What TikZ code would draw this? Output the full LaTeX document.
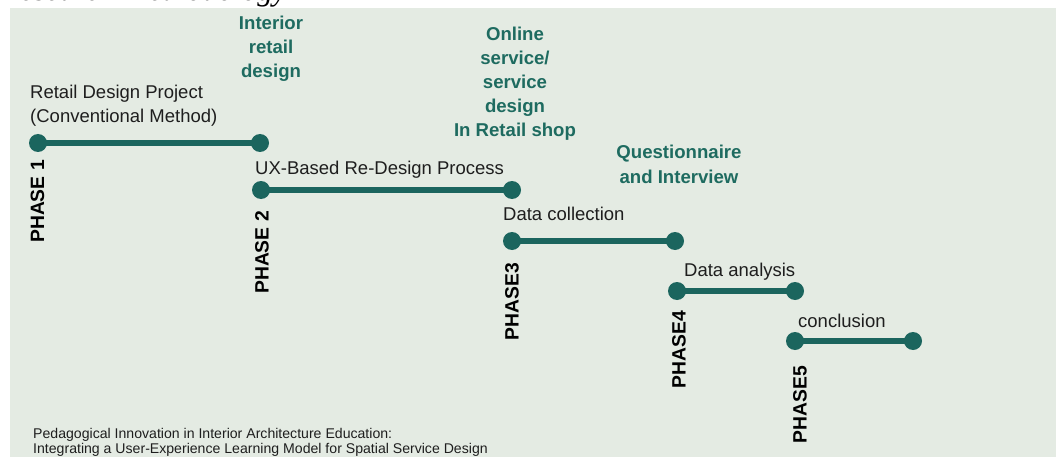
\documentclass[tikz,border=0pt]{standalone}
\usepackage{fontspec}
\setmainfont{Liberation Sans}
\newfontfamily\titlefont{Liberation Serif}
\definecolor{panelbg}{HTML}{E4EBE3}
\definecolor{teal}{HTML}{1B655E}
\definecolor{tealtext}{HTML}{1E6B60}
\definecolor{ink}{HTML}{1E1E1E}
\begin{document}
\begin{tikzpicture}[x=1pt,y=-1pt,
  dot/.style={circle,fill=teal,minimum size=18pt,inner sep=0pt},
  phaseline/.style={draw=teal,line width=6.5pt},
  steplabel/.style={anchor=base west,inner sep=0pt,text=ink,font=\fontsize{18.5}{24}\selectfont,align=left},
  phaselabel/.style={anchor=east,rotate=90,inner sep=0pt,text=black,font=\fontsize{19.3}{22}\selectfont\bfseries},
  notelabel/.style={anchor=base,inner sep=0pt,text=tealtext,align=center,font=\fontsize{18.6}{24.2}\selectfont\bfseries},
  footnote/.style={anchor=base west,inner sep=0pt,text=ink,align=left,font=\fontsize{14.1}{14.5}\selectfont}]
\useasboundingbox (0,0) rectangle (1056,457);
% page background and panel
\fill[white] (0,0) rectangle (1056,457);
\fill[panelbg] (10,8) rectangle (1056,457);
% heading, cut by the top edge
\node[anchor=base west,inner sep=0pt,font=\titlefont\itshape\fontsize{31}{34}\selectfont] (title) at (1,0.8) {Research Methodology};

% phase dots
\node[dot] (p1a) at (38,143) {};
\node[dot] (p1b) at (260,143) {};
\node[dot] (p2a) at (261,190) {};
\node[dot] (p2b) at (512,190) {};
\node[dot] (p3a) at (512,241) {};
\node[dot] (p3b) at (675,241) {};
\node[dot] (p4a) at (677,291) {};
\node[dot] (p4b) at (795,291) {};
\node[dot] (p5a) at (795,341) {};
\node[dot] (p5b) at (913,341) {};

% phase bars
\draw[phaseline] (p1a.center) -- (p1b.center);
\draw[phaseline] (p2a.center) -- (p2b.center);
\draw[phaseline] (p3a.center) -- (p3b.center);
\draw[phaseline] (p4a.center) -- (p4b.center);
\draw[phaseline] (p5a.center) -- (p5b.center);

% step names (anchored on the baseline of the last line)
\node[steplabel] (s1) at (30,123) {Retail Design Project\\(Conventional Method)};
\node[steplabel] (s2) at (255,175) {UX-Based Re-Design Process};
\node[steplabel] (s3) at (503,220) {Data collection};
\node[steplabel] (s4) at (684,276) {Data analysis};
\node[steplabel] (s5) at (798,327) {conclusion};

% phase names
\node[phaselabel] (n1) at (37.5,160) {PHASE 1};
\node[phaselabel] (n2) at (262,211) {PHASE 2};
\node[phaselabel] (n3) at (512,263) {PHASE3};
\node[phaselabel] (n4) at (679,311) {PHASE4};
\node[phaselabel] (n5) at (800,366) {PHASE5};

% focus notes
\node[notelabel] (f1) at (271,78) {Interior\\retail\\design};
\node[notelabel] (f2) at (515,137) {Online\\service/\\service\\design\\In Retail shop};
\node[notelabel] (f3) at (679,183) {Questionnaire\\and Interview};

% source
\node[footnote] (src) at (33,453) {Pedagogical Innovation in Interior Architecture Education:\\Integrating a User-Experience Learning Model for Spatial Service Design};
\end{tikzpicture}
\end{document}
